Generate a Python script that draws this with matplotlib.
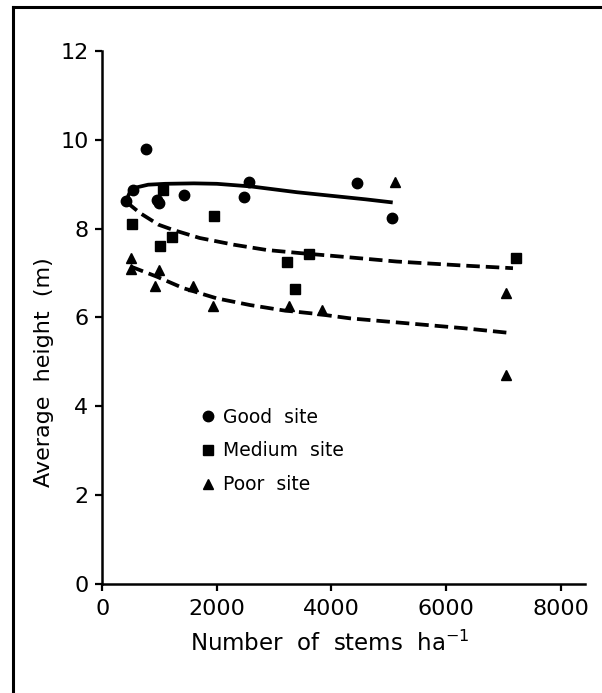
import matplotlib
matplotlib.use("Agg")
import matplotlib.pyplot as plt
from matplotlib.lines import Line2D

# ---- data ----
good_x = [416, 540, 765, 960, 996, 1427, 2475, 2568, 4454, 5060]
good_y = [8.63, 8.88, 9.79, 8.65, 8.57, 8.76, 8.72, 9.05, 9.02, 8.24]

medium_x = [519, 1066, 1008, 1217, 1951, 3220, 3360, 3616, 7220]
medium_y = [8.11, 8.87, 7.61, 7.82, 8.29, 7.24, 6.64, 7.43, 7.34]

poor_x = [507, 507, 985, 926, 1579, 1939, 3256, 3838, 5118, 7050, 7050]
poor_y = [7.33, 7.09, 7.06, 6.71, 6.71, 6.25, 6.26, 6.17, 9.05, 6.56, 4.71]

good_fit_x = [416, 480, 600, 800, 1100, 1600, 2000, 2600, 3400, 4000, 4600, 5070]
good_fit_y = [8.63, 8.82, 8.93, 8.99, 9.01, 9.02, 9.01, 8.95, 8.82, 8.74, 8.66, 8.59]

medium_fit_x = [420, 660, 980, 1240, 1700, 2290, 2870, 3450, 4000, 5140, 6300, 7170]
medium_fit_y = [8.60, 8.35, 8.09, 7.97, 7.79, 7.64, 7.52, 7.45, 7.39, 7.26, 7.17, 7.11]

poor_fit_x = [490, 950, 1415, 2000, 2580, 3160, 3750, 4330, 5140, 6300, 7130]
poor_fit_y = [7.15, 6.92, 6.66, 6.43, 6.28, 6.16, 6.08, 5.98, 5.89, 5.76, 5.65]

x_ticks = [0, 2000, 4000, 6000, 8000]
y_ticks = [0, 2, 4, 6, 8, 10, 12]
legend_labels = ["Good  site", "Medium  site", "Poor  site"]

plt.rcParams['font.family'] = ['DejaVu Sans']

fig = plt.figure(figsize=(6.02, 6.93), dpi=100)
ax = fig.add_axes([0.170, 0.1573, 0.802, 0.7691])

# fitted curves
ax.plot(good_fit_x, good_fit_y, color='black', lw=2.7, solid_capstyle='butt')
l1, = ax.plot(medium_fit_x, medium_fit_y, color='black', lw=2.7)
l1.set_dashes([3.6, 1.6])
l2, = ax.plot(poor_fit_x, poor_fit_y, color='black', lw=2.7)
l2.set_dashes([3.6, 1.6])

# points
hg, = ax.plot(good_x, good_y, 'o', color='black', ms=7.5, ls='none')
hm, = ax.plot(medium_x, medium_y, 's', color='black', ms=6.5, ls='none')
hp, = ax.plot(poor_x, poor_y, '^', color='black', ms=7.2, ls='none')

ax.set_xlim(0, 8430)
ax.set_ylim(0, 12)
ax.set_xticks(x_ticks)
ax.set_yticks(y_ticks)
for s in ['top', 'right']:
    ax.spines[s].set_visible(False)
for s in ['left', 'bottom']:
    ax.spines[s].set_linewidth(1.8)
ax.tick_params(axis='both', direction='out', length=5, width=1.6,
               labelsize=16, color='black')
ax.tick_params(axis='x', pad=6)
ax.tick_params(axis='y', pad=5)

leg = ax.legend([hg, hm, hp], legend_labels, loc='upper left',
                bbox_to_anchor=(0.204, 0.3305), frameon=False,
                fontsize=13.5, handlelength=0.8, handletextpad=0.4,
                labelspacing=0.78, borderpad=0, borderaxespad=0)

fig.text(330 / 602, 1 - 643 / 693, "Number  of  stems  ha$^{-1}$",
         ha='center', va='center', fontsize=16.5)
fig.text(44 / 602, 1 - 372 / 693, "Average  height  (m)",
         ha='center', va='center', rotation=90, fontsize=16)

# outer frame (left and top edges)
fig.add_artist(Line2D([13.3 / 602, 13.3 / 602], [0, 1 - 6.5 / 693],
                      transform=fig.transFigure, color='black', lw=2.2))
fig.add_artist(Line2D([13.3 / 602, 1], [1 - 6.5 / 693, 1 - 6.5 / 693],
                      transform=fig.transFigure, color='black', lw=2.2))

fig.savefig("out.png", dpi=100)
